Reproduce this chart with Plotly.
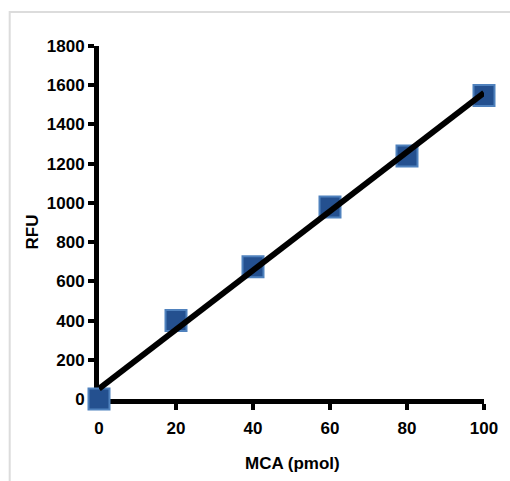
import numpy as np
import plotly.graph_objects as go

mca_pmol = [0, 20, 40, 60, 80, 100]
rfu = [0, 400, 675, 979, 1239, 1548]
x_ticks = [0, 20, 40, 60, 80, 100]
y_ticks = [0, 200, 400, 600, 800, 1000, 1200, 1400, 1600, 1800]

slope, intercept = np.polyfit(mca_pmol, rfu, 1)
fit_x = [min(mca_pmol), max(mca_pmol)]
fit_y = [slope * v + intercept for v in fit_x]

W, H = 510, 481
L, R, T, B = 99, 23, 46, 82
pw, ph = W - L - R, H - T - B

def px_x(p):
    return (p - L) / pw

def px_y(p):
    return (H - B - p) / ph

fig = go.Figure()
fig.add_trace(go.Scatter(
    x=mca_pmol, y=rfu, mode="markers",
    marker=dict(symbol="square", size=21, color="#24508f",
                line=dict(color="#4f81bd", width=2)),
    cliponaxis=False, showlegend=False,
))
fig.add_trace(go.Scatter(
    x=fit_x, y=fit_y, mode="lines",
    line=dict(color="black", width=6),
    cliponaxis=False, showlegend=False,
))

font_fam = "Liberation Sans, Arial, sans-serif"
axis_common = dict(
    showgrid=False, zeroline=False, showline=True, linecolor="black",
    linewidth=5, ticks="outside", ticklen=6, tickwidth=4, tickcolor="black",
    tickfont=dict(family=font_fam, size=17, color="black", weight="bold"),
    layer="below traces",
)
fig.update_xaxes(range=[0, 100], tickvals=x_ticks, ticklabelstandoff=4, **axis_common)
fig.update_yaxes(range=[0, 1800], tickvals=y_ticks, **axis_common)

fig.add_annotation(
    text="MCA (pmol)", xref="paper", yref="paper",
    x=px_x(294), y=px_y(463), xanchor="center", yanchor="middle",
    showarrow=False,
    font=dict(family=font_fam, size=17, color="black", weight="bold"),
)
fig.add_annotation(
    text="RFU", xref="paper", yref="paper",
    x=px_x(31), y=px_y(232), xanchor="center", yanchor="middle",
    showarrow=False, textangle=-90,
    font=dict(family=font_fam, size=17, color="black", weight="bold"),
)
fig.add_shape(
    type="rect", xref="paper", yref="paper",
    x0=px_x(9), x1=px_x(530), y0=px_y(500), y1=px_y(12),
    line=dict(color="#dcdcdc", width=2), layer="below",
)

fig.update_layout(
    width=W, height=H,
    margin=dict(l=L, r=R, t=T, b=B),
    paper_bgcolor="white", plot_bgcolor="white",
)
fig.write_html(
    "out.html",
    config={"displayModeBar": False},
    post_script="document.body.style.margin='0';document.body.style.overflow='hidden';",
)
